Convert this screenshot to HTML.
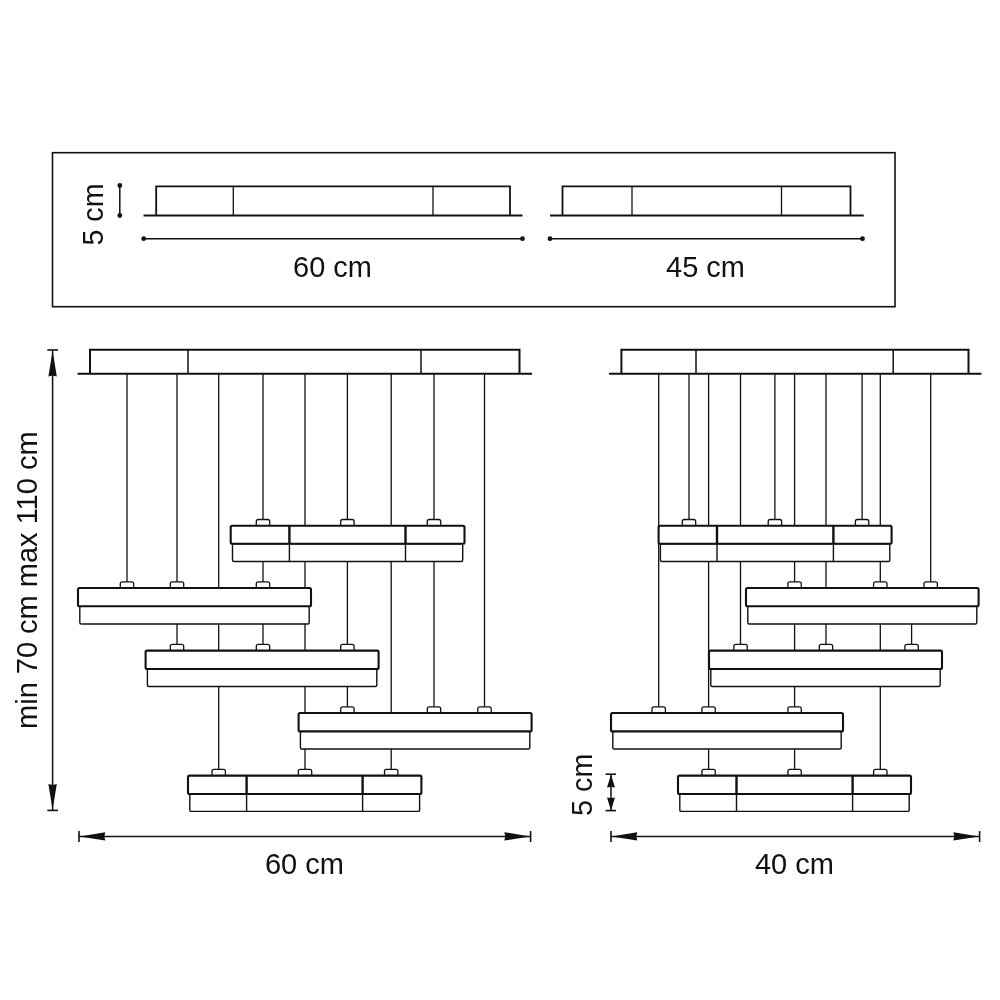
<!DOCTYPE html>
<html lang="en">
<head>
<meta charset="utf-8">
<title>Dimensions</title>
<style>
html,body{margin:0;padding:0;background:#fff;}
body{width:1000px;height:1000px;overflow:hidden;}
svg{display:block;font-family:"Liberation Sans",sans-serif;filter:grayscale(1);}
</style>
</head>
<body>
<svg width="1000" height="1000" viewBox="0 0 1000 1000" stroke="#111" fill="none">
<rect x="0" y="0" width="1000" height="1000" fill="#fff" stroke="none"/>
<rect x="52.5" y="152.7" width="842.5" height="154" fill="none" stroke-width="1.6"/>
<path d="M156.2 215.5V186.4H510V215.5" fill="#fff" stroke-width="1.8"/>
<line x1="233.3" y1="186.4" x2="233.3" y2="215.5" stroke-width="1.3" stroke-linecap="butt"/>
<line x1="433" y1="186.4" x2="433" y2="215.5" stroke-width="1.3" stroke-linecap="butt"/>
<line x1="143.5" y1="215.5" x2="522.5" y2="215.5" stroke-width="1.8" stroke-linecap="butt"/>
<path d="M562.5 215.5V186.4H850.5V215.5" fill="#fff" stroke-width="1.8"/>
<line x1="632" y1="186.4" x2="632" y2="215.5" stroke-width="1.3" stroke-linecap="butt"/>
<line x1="781.5" y1="186.4" x2="781.5" y2="215.5" stroke-width="1.3" stroke-linecap="butt"/>
<line x1="550" y1="215.5" x2="863.7" y2="215.5" stroke-width="1.8" stroke-linecap="butt"/>
<line x1="143.7" y1="238.7" x2="522.5" y2="238.7" stroke-width="1.4" stroke-linecap="butt"/>
<circle cx="143.7" cy="238.7" r="2.4" fill="#111" stroke="none"/>
<circle cx="522.5" cy="238.7" r="2.4" fill="#111" stroke="none"/>
<line x1="550" y1="238.7" x2="862.5" y2="238.7" stroke-width="1.4" stroke-linecap="butt"/>
<circle cx="550" cy="238.7" r="2.4" fill="#111" stroke="none"/>
<circle cx="862.5" cy="238.7" r="2.4" fill="#111" stroke="none"/>
<line x1="119.8" y1="185.5" x2="119.8" y2="215.5" stroke-width="1.5" stroke-linecap="butt"/>
<circle cx="119.8" cy="185.5" r="2.4" fill="#111" stroke="none"/>
<circle cx="119.8" cy="215.5" r="2.4" fill="#111" stroke="none"/>
<text x="102.8" y="214.5" font-size="29.8" text-anchor="middle" textLength="61.8" lengthAdjust="spacingAndGlyphs" fill="#111" stroke="none" transform="rotate(-90 102.8 214.5)">5 cm</text>
<text x="332.5" y="276.9" font-size="29.8" text-anchor="middle" textLength="78.8" lengthAdjust="spacingAndGlyphs" fill="#111" stroke="none">60 cm</text>
<text x="705.5" y="276.9" font-size="29.8" text-anchor="middle" textLength="78.8" lengthAdjust="spacingAndGlyphs" fill="#111" stroke="none">45 cm</text>
<line x1="127.0" y1="373.8" x2="127.0" y2="588" stroke-width="1.3" stroke-linecap="butt"/>
<line x1="177" y1="373.8" x2="177" y2="651" stroke-width="1.3" stroke-linecap="butt"/>
<line x1="218.7" y1="373.8" x2="218.7" y2="776" stroke-width="1.3" stroke-linecap="butt"/>
<line x1="263.0" y1="373.8" x2="263.0" y2="651" stroke-width="1.3" stroke-linecap="butt"/>
<line x1="305.0" y1="373.8" x2="305.0" y2="776" stroke-width="1.3" stroke-linecap="butt"/>
<line x1="347.4" y1="373.8" x2="347.4" y2="713" stroke-width="1.3" stroke-linecap="butt"/>
<line x1="391.2" y1="373.8" x2="391.2" y2="776" stroke-width="1.3" stroke-linecap="butt"/>
<line x1="434.0" y1="373.8" x2="434.0" y2="713" stroke-width="1.3" stroke-linecap="butt"/>
<line x1="484.5" y1="373.8" x2="484.5" y2="713" stroke-width="1.3" stroke-linecap="butt"/>
<path d="M90 373.8V349.7H519.5V373.8" fill="#fff" stroke-width="2.0"/>
<line x1="188" y1="349.7" x2="188" y2="373.8" stroke-width="1.5" stroke-linecap="butt"/>
<line x1="421" y1="349.7" x2="421" y2="373.8" stroke-width="1.5" stroke-linecap="butt"/>
<line x1="77.5" y1="373.8" x2="532" y2="373.8" stroke-width="2.0" stroke-linecap="butt"/>
<path d="M256.3 525.7V521.5Q256.3 519.5 258.3 519.5H267.7Q269.7 519.5 269.7 521.5V525.7Z" fill="#fff" stroke-width="1.3"/>
<path d="M340.7 525.7V521.5Q340.7 519.5 342.7 519.5H352.09999999999997Q354.09999999999997 519.5 354.09999999999997 521.5V525.7Z" fill="#fff" stroke-width="1.3"/>
<path d="M427.3 525.7V521.5Q427.3 519.5 429.3 519.5H438.7Q440.7 519.5 440.7 521.5V525.7Z" fill="#fff" stroke-width="1.3"/>
<rect x="232.5" y="543.8" width="230.2" height="17.700000000000045" rx="1.5" fill="#fff" stroke-width="1.4"/>
<rect x="230.7" y="525.7" width="233.8" height="18.09999999999991" rx="1.5" fill="#fff" stroke-width="2.1"/>
<line x1="289.4" y1="525.7" x2="289.4" y2="543.8" stroke-width="2.4" stroke-linecap="butt"/>
<line x1="289.4" y1="543.8" x2="289.4" y2="561.5" stroke-width="1.4" stroke-linecap="butt"/>
<line x1="405.5" y1="525.7" x2="405.5" y2="543.8" stroke-width="2.4" stroke-linecap="butt"/>
<line x1="405.5" y1="543.8" x2="405.5" y2="561.5" stroke-width="1.4" stroke-linecap="butt"/>
<path d="M120.3 588V583.8Q120.3 581.8 122.3 581.8H131.7Q133.7 581.8 133.7 583.8V588Z" fill="#fff" stroke-width="1.3"/>
<path d="M170.3 588V583.8Q170.3 581.8 172.3 581.8H181.7Q183.7 581.8 183.7 583.8V588Z" fill="#fff" stroke-width="1.3"/>
<path d="M256.3 588V583.8Q256.3 581.8 258.3 581.8H267.7Q269.7 581.8 269.7 583.8V588Z" fill="#fff" stroke-width="1.3"/>
<rect x="79.8" y="606.2" width="229.4" height="17.799999999999955" rx="1.5" fill="#fff" stroke-width="1.4"/>
<rect x="78" y="588" width="233" height="18.200000000000045" rx="1.5" fill="#fff" stroke-width="2.1"/>
<path d="M170.3 650.6V646.4Q170.3 644.4 172.3 644.4H181.7Q183.7 644.4 183.7 646.4V650.6Z" fill="#fff" stroke-width="1.3"/>
<path d="M256.3 650.6V646.4Q256.3 644.4 258.3 644.4H267.7Q269.7 644.4 269.7 646.4V650.6Z" fill="#fff" stroke-width="1.3"/>
<path d="M340.7 650.6V646.4Q340.7 644.4 342.7 644.4H352.09999999999997Q354.09999999999997 644.4 354.09999999999997 646.4V650.6Z" fill="#fff" stroke-width="1.3"/>
<rect x="147.4" y="669" width="229.4" height="17.5" rx="1.5" fill="#fff" stroke-width="1.4"/>
<rect x="145.6" y="650.6" width="233.00000000000003" height="18.399999999999977" rx="1.5" fill="#fff" stroke-width="2.1"/>
<path d="M340.7 713V708.8Q340.7 706.8 342.7 706.8H352.09999999999997Q354.09999999999997 706.8 354.09999999999997 708.8V713Z" fill="#fff" stroke-width="1.3"/>
<path d="M427.3 713V708.8Q427.3 706.8 429.3 706.8H438.7Q440.7 706.8 440.7 708.8V713Z" fill="#fff" stroke-width="1.3"/>
<path d="M477.8 713V708.8Q477.8 706.8 479.8 706.8H489.2Q491.2 706.8 491.2 708.8V713Z" fill="#fff" stroke-width="1.3"/>
<rect x="300.4" y="731.4" width="229.4" height="17.600000000000023" rx="1.5" fill="#fff" stroke-width="1.4"/>
<rect x="298.6" y="713" width="233.0" height="18.399999999999977" rx="1.5" fill="#fff" stroke-width="2.1"/>
<path d="M212.0 775.6V771.4Q212.0 769.4 214.0 769.4H223.39999999999998Q225.39999999999998 769.4 225.39999999999998 771.4V775.6Z" fill="#fff" stroke-width="1.3"/>
<path d="M298.3 775.6V771.4Q298.3 769.4 300.3 769.4H309.7Q311.7 769.4 311.7 771.4V775.6Z" fill="#fff" stroke-width="1.3"/>
<path d="M384.5 775.6V771.4Q384.5 769.4 386.5 769.4H395.9Q397.9 769.4 397.9 771.4V775.6Z" fill="#fff" stroke-width="1.3"/>
<rect x="189.8" y="794" width="229.8" height="17.399999999999977" rx="1.5" fill="#fff" stroke-width="1.4"/>
<rect x="188" y="775.6" width="233.39999999999998" height="18.399999999999977" rx="1.5" fill="#fff" stroke-width="2.1"/>
<line x1="246.6" y1="775.6" x2="246.6" y2="794" stroke-width="2.4" stroke-linecap="butt"/>
<line x1="246.6" y1="794" x2="246.6" y2="811.4" stroke-width="1.4" stroke-linecap="butt"/>
<line x1="362.6" y1="775.6" x2="362.6" y2="794" stroke-width="2.4" stroke-linecap="butt"/>
<line x1="362.6" y1="794" x2="362.6" y2="811.4" stroke-width="1.4" stroke-linecap="butt"/>
<line x1="52.6" y1="350" x2="52.6" y2="810.4" stroke-width="1.5" stroke-linecap="butt"/>
<line x1="47.3" y1="350" x2="58" y2="350" stroke-width="1.6" stroke-linecap="butt"/>
<line x1="47.3" y1="810.4" x2="58" y2="810.4" stroke-width="1.6" stroke-linecap="butt"/>
<polygon points="52.60,350.50 56.80,376.50 52.60,375.50 48.40,376.50" fill="#111" stroke="none"/>
<polygon points="52.60,810.00 48.40,784.00 52.60,785.00 56.80,784.00" fill="#111" stroke="none"/>
<text x="36.9" y="580.2" font-size="29.8" text-anchor="middle" textLength="297.5" lengthAdjust="spacingAndGlyphs" fill="#111" stroke="none" transform="rotate(-90 36.9 580.2)">min 70 cm max 110 cm</text>
<line x1="79" y1="836.4" x2="530.6" y2="836.4" stroke-width="1.5" stroke-linecap="butt"/>
<line x1="79" y1="831" x2="79" y2="842" stroke-width="1.6" stroke-linecap="butt"/>
<line x1="530.6" y1="831" x2="530.6" y2="842" stroke-width="1.6" stroke-linecap="butt"/>
<polygon points="79.30,836.40 105.30,832.20 104.30,836.40 105.30,840.60" fill="#111" stroke="none"/>
<polygon points="530.30,836.40 504.30,840.60 505.30,836.40 504.30,832.20" fill="#111" stroke="none"/>
<text x="304.4" y="874.1" font-size="29.8" text-anchor="middle" textLength="79" lengthAdjust="spacingAndGlyphs" fill="#111" stroke="none">60 cm</text>
<line x1="658.7" y1="373.8" x2="658.7" y2="713" stroke-width="1.3" stroke-linecap="butt"/>
<line x1="689" y1="373.8" x2="689" y2="525" stroke-width="1.3" stroke-linecap="butt"/>
<line x1="708.6" y1="373.8" x2="708.6" y2="776" stroke-width="1.3" stroke-linecap="butt"/>
<line x1="740.5" y1="373.8" x2="740.5" y2="651" stroke-width="1.3" stroke-linecap="butt"/>
<line x1="774.9" y1="373.8" x2="774.9" y2="525" stroke-width="1.3" stroke-linecap="butt"/>
<line x1="794.6" y1="373.8" x2="794.6" y2="776" stroke-width="1.3" stroke-linecap="butt"/>
<line x1="826.0" y1="373.8" x2="826.0" y2="651" stroke-width="1.3" stroke-linecap="butt"/>
<line x1="862.1" y1="373.8" x2="862.1" y2="525" stroke-width="1.3" stroke-linecap="butt"/>
<line x1="880.3" y1="373.8" x2="880.3" y2="776" stroke-width="1.3" stroke-linecap="butt"/>
<line x1="930.7" y1="373.8" x2="930.7" y2="588" stroke-width="1.3" stroke-linecap="butt"/>
<line x1="911.6" y1="620" x2="911.6" y2="650" stroke-width="1.3" stroke-linecap="butt"/>
<path d="M621.4 373.8V349.7H968.5V373.8" fill="#fff" stroke-width="2.0"/>
<line x1="696" y1="349.7" x2="696" y2="373.8" stroke-width="1.5" stroke-linecap="butt"/>
<line x1="893.2" y1="349.7" x2="893.2" y2="373.8" stroke-width="1.5" stroke-linecap="butt"/>
<line x1="609" y1="373.8" x2="981.5" y2="373.8" stroke-width="2.0" stroke-linecap="butt"/>
<path d="M682.3 525.7V521.5Q682.3 519.5 684.3 519.5H693.7Q695.7 519.5 695.7 521.5V525.7Z" fill="#fff" stroke-width="1.3"/>
<path d="M768.1999999999999 525.7V521.5Q768.1999999999999 519.5 770.1999999999999 519.5H779.6Q781.6 519.5 781.6 521.5V525.7Z" fill="#fff" stroke-width="1.3"/>
<path d="M855.4 525.7V521.5Q855.4 519.5 857.4 519.5H866.8000000000001Q868.8000000000001 519.5 868.8000000000001 521.5V525.7Z" fill="#fff" stroke-width="1.3"/>
<rect x="660.4" y="543.8" width="229.4" height="17.700000000000045" rx="1.5" fill="#fff" stroke-width="1.4"/>
<rect x="658.6" y="525.7" width="233.0" height="18.09999999999991" rx="1.5" fill="#fff" stroke-width="2.1"/>
<line x1="717" y1="525.7" x2="717" y2="543.8" stroke-width="2.4" stroke-linecap="butt"/>
<line x1="717" y1="543.8" x2="717" y2="561.5" stroke-width="1.4" stroke-linecap="butt"/>
<line x1="833.4" y1="525.7" x2="833.4" y2="543.8" stroke-width="2.4" stroke-linecap="butt"/>
<line x1="833.4" y1="543.8" x2="833.4" y2="561.5" stroke-width="1.4" stroke-linecap="butt"/>
<path d="M787.9 588V583.8Q787.9 581.8 789.9 581.8H799.3000000000001Q801.3000000000001 581.8 801.3000000000001 583.8V588Z" fill="#fff" stroke-width="1.3"/>
<path d="M873.5999999999999 588V583.8Q873.5999999999999 581.8 875.5999999999999 581.8H885.0Q887.0 581.8 887.0 583.8V588Z" fill="#fff" stroke-width="1.3"/>
<path d="M924.0 588V583.8Q924.0 581.8 926.0 581.8H935.4000000000001Q937.4000000000001 581.8 937.4000000000001 583.8V588Z" fill="#fff" stroke-width="1.3"/>
<rect x="747.8" y="606.2" width="229.0" height="17.799999999999955" rx="1.5" fill="#fff" stroke-width="1.4"/>
<rect x="746" y="588" width="232.60000000000002" height="18.200000000000045" rx="1.5" fill="#fff" stroke-width="2.1"/>
<path d="M733.8 650.6V646.4Q733.8 644.4 735.8 644.4H745.2Q747.2 644.4 747.2 646.4V650.6Z" fill="#fff" stroke-width="1.3"/>
<path d="M819.3 650.6V646.4Q819.3 644.4 821.3 644.4H830.7Q832.7 644.4 832.7 646.4V650.6Z" fill="#fff" stroke-width="1.3"/>
<path d="M904.9 650.6V646.4Q904.9 644.4 906.9 644.4H916.3000000000001Q918.3000000000001 644.4 918.3000000000001 646.4V650.6Z" fill="#fff" stroke-width="1.3"/>
<rect x="710.8" y="669" width="229.4" height="17.5" rx="1.5" fill="#fff" stroke-width="1.4"/>
<rect x="709" y="650.6" width="233" height="18.399999999999977" rx="1.5" fill="#fff" stroke-width="2.1"/>
<path d="M652.0 713V708.8Q652.0 706.8 654.0 706.8H663.4000000000001Q665.4000000000001 706.8 665.4000000000001 708.8V713Z" fill="#fff" stroke-width="1.3"/>
<path d="M701.9 713V708.8Q701.9 706.8 703.9 706.8H713.3000000000001Q715.3000000000001 706.8 715.3000000000001 708.8V713Z" fill="#fff" stroke-width="1.3"/>
<path d="M787.9 713V708.8Q787.9 706.8 789.9 706.8H799.3000000000001Q801.3000000000001 706.8 801.3000000000001 708.8V713Z" fill="#fff" stroke-width="1.3"/>
<rect x="612.8" y="731.4" width="228.4" height="17.600000000000023" rx="1.5" fill="#fff" stroke-width="1.4"/>
<rect x="611" y="713" width="232" height="18.399999999999977" rx="1.5" fill="#fff" stroke-width="2.1"/>
<path d="M701.9 775.6V771.4Q701.9 769.4 703.9 769.4H713.3000000000001Q715.3000000000001 769.4 715.3000000000001 771.4V775.6Z" fill="#fff" stroke-width="1.3"/>
<path d="M787.9 775.6V771.4Q787.9 769.4 789.9 769.4H799.3000000000001Q801.3000000000001 769.4 801.3000000000001 771.4V775.6Z" fill="#fff" stroke-width="1.3"/>
<path d="M873.5999999999999 775.6V771.4Q873.5999999999999 769.4 875.5999999999999 769.4H885.0Q887.0 769.4 887.0 771.4V775.6Z" fill="#fff" stroke-width="1.3"/>
<rect x="679.8" y="794" width="229.4" height="17.399999999999977" rx="1.5" fill="#fff" stroke-width="1.4"/>
<rect x="678" y="775.6" width="233" height="18.399999999999977" rx="1.5" fill="#fff" stroke-width="2.1"/>
<line x1="736.5" y1="775.6" x2="736.5" y2="794" stroke-width="2.4" stroke-linecap="butt"/>
<line x1="736.5" y1="794" x2="736.5" y2="811.4" stroke-width="1.4" stroke-linecap="butt"/>
<line x1="852.6" y1="775.6" x2="852.6" y2="794" stroke-width="2.4" stroke-linecap="butt"/>
<line x1="852.6" y1="794" x2="852.6" y2="811.4" stroke-width="1.4" stroke-linecap="butt"/>
<line x1="611" y1="774.2" x2="611" y2="810.6" stroke-width="1.5" stroke-linecap="butt"/>
<line x1="605.6" y1="774.2" x2="616" y2="774.2" stroke-width="1.6" stroke-linecap="butt"/>
<line x1="605.6" y1="810.6" x2="616" y2="810.6" stroke-width="1.6" stroke-linecap="butt"/>
<polygon points="611.00,774.40 615.00,787.40 611.00,786.90 607.00,787.40" fill="#111" stroke="none"/>
<polygon points="611.00,810.40 607.00,797.40 611.00,797.90 615.00,797.40" fill="#111" stroke="none"/>
<text x="592.2" y="784.8" font-size="29.8" text-anchor="middle" textLength="62.3" lengthAdjust="spacingAndGlyphs" fill="#111" stroke="none" transform="rotate(-90 592.2 784.8)">5 cm</text>
<line x1="611" y1="836.4" x2="979.6" y2="836.4" stroke-width="1.5" stroke-linecap="butt"/>
<line x1="611" y1="831" x2="611" y2="842" stroke-width="1.6" stroke-linecap="butt"/>
<line x1="979.6" y1="831" x2="979.6" y2="842" stroke-width="1.6" stroke-linecap="butt"/>
<polygon points="611.30,836.40 637.30,832.20 636.30,836.40 637.30,840.60" fill="#111" stroke="none"/>
<polygon points="979.30,836.40 953.30,840.60 954.30,836.40 953.30,832.20" fill="#111" stroke="none"/>
<text x="794.4" y="874.1" font-size="29.8" text-anchor="middle" textLength="79" lengthAdjust="spacingAndGlyphs" fill="#111" stroke="none">40 cm</text>
</svg>
</body>
</html>
